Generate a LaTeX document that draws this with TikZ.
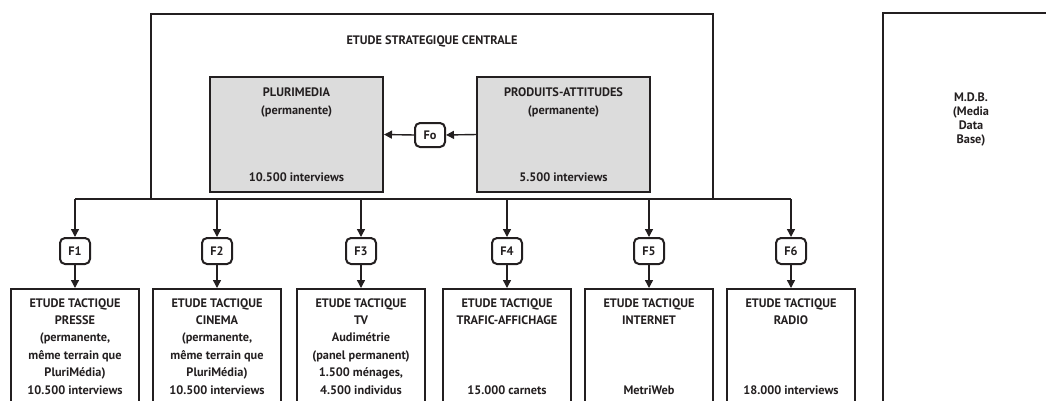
\documentclass[tikz,border=0pt]{standalone}
\usepackage{fontspec}
\setmainfont{PT Sans}
\usetikzlibrary{arrows.meta}
\definecolor{ink}{HTML}{231F20}
\definecolor{grayfill}{HTML}{DCDCDC}
\begin{document}
\begin{tikzpicture}[x=1pt,y=-1pt,
  font=\bfseries\fontsize{12.3}{17.4}\selectfont, text=ink,
  bigbox/.style={draw=ink, line width=2.8pt, inner sep=0pt, outer sep=0pt},
  graybox/.style={bigbox, fill=grayfill, minimum width=173pt, minimum height=115pt},
  tacbox/.style={bigbox, minimum width=128pt, minimum height=150pt, anchor=north},
  fbox/.style={draw=ink, line width=2pt, rounded corners=5pt, minimum width=30pt, minimum height=26pt, inner sep=0pt, outer sep=0pt},
  lbl/.style={anchor=base, align=center, inner sep=0pt},
  conn/.style={draw=ink, line width=1.4pt},
  arr/.style={conn, -{Triangle[length=8pt,width=8pt]}, shorten >=1pt}]
\useasboundingbox (0,0) rectangle (1046,400);
\clip (0,0) rectangle (1046,400);
% central strategic study
\node[bigbox, anchor=north west, minimum width=562pt, minimum height=185pt] (central) at (151,14) {};
\node[lbl] (ctitle) at (432,44) {ETUDE STRATEGIQUE CENTRALE};
\node[graybox] (pluri) at (296.5,134.5) {};
\node[graybox] (prod) at (563.5,134.5) {};
\node[lbl, font=\bfseries\fontsize{12.3}{18}\selectfont] (plurit) at (296.5,114) {PLURIMEDIA\\(permanente)};
\node[lbl] (plurin) at (296.5,181) {10.500 interviews};
\node[lbl, font=\bfseries\fontsize{12.3}{18}\selectfont] (prodt) at (563.5,114) {PRODUITS-ATTITUDES\\(permanente)};
\node[lbl] (prodn) at (563.5,181) {5.500 interviews};
\node[fbox, minimum height=24pt] (fo) at (430,135) {Fo};
\draw[arr] (prod.west) -- (fo.east);
\draw[arr] (fo.west) -- (pluri.east);
% MDB
\node[bigbox, anchor=north west, minimum width=220pt, minimum height=430pt] (mdb) at (883,13) {};
\node[lbl, font=\bfseries\fontsize{12.3}{14}\selectfont] (mdbt) at (971,143) {M.D.B.\\(Media\\Data\\Base)};
% tactical studies
\foreach \i/\cx in {1/75,2/217,3/361,4/507,5/649,6/791}{
  \node[fbox] (f\i) at (\cx,251) {F\i};
  \node[tacbox] (t\i) at (\cx,289) {};
}
\node[lbl] (t1t) at (75,394) {ETUDE TACTIQUE\\PRESSE\\(permanente,\\même terrain que\\PluriMédia)\\10.500 interviews};
\node[lbl] (t2t) at (217,394) {ETUDE TACTIQUE\\CINEMA\\(permanente,\\même terrain que\\PluriMédia)\\10.500 interviews};
\node[lbl] (t3t) at (361,394) {ETUDE TACTIQUE\\TV\\Audimétrie\\(panel permanent)\\1.500 ménages,\\4.500 individus};
\node[lbl] (t4t) at (507,324.4) {ETUDE TACTIQUE\\TRAFIC-AFFICHAGE};
\node[lbl] (t4n) at (507,394) {15.000 carnets};
\node[lbl] (t5t) at (649,324.4) {ETUDE TACTIQUE\\INTERNET};
\node[lbl] (t5n) at (649,394) {MetriWeb};
\node[lbl] (t6t) at (791,324.4) {ETUDE TACTIQUE\\RADIO};
\node[lbl] (t6n) at (791,394) {18.000 interviews};
% connectors
\draw[conn] (f1 |- central.south) -- (f6 |- central.south);
\foreach \i in {1,...,6}{
  \draw[arr] (f\i |- central.south) -- (f\i.north);
  \draw[arr] (f\i.south) -- (t\i.north);
}
\end{tikzpicture}
\end{document}
